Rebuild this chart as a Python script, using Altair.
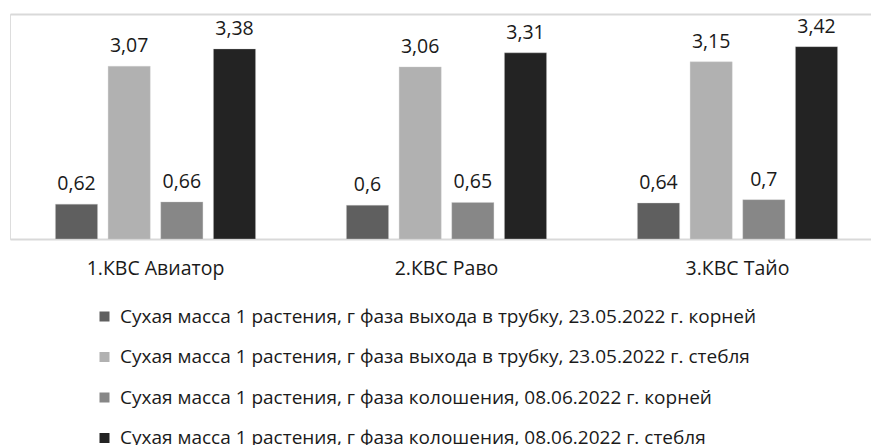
import altair as alt
import pandas as pd

# Varieties (groups) and measurement series
varieties = ["1.КВС Авиатор", "2.КВС Раво", "3.КВС Тайо"]
series = [
    "Сухая масса 1 растения, г фаза выхода в трубку, 23.05.2022 г. корней",
    "Сухая масса 1 растения, г фаза выхода в трубку, 23.05.2022 г. стебля",
    "Сухая масса 1 растения, г фаза колошения, 08.06.2022 г. корней",
    "Сухая масса 1 растения, г фаза колошения, 08.06.2022 г. стебля",
]
roots_tube = [0.62, 0.60, 0.64]
stems_tube = [3.07, 3.06, 3.15]
roots_ear = [0.66, 0.65, 0.70]
stems_ear = [3.38, 3.31, 3.42]
colors = ["#5f5f5f", "#b1b1b1", "#878787", "#232323"]

rows = []
for s, vals in zip(series, [roots_tube, stems_tube, roots_ear, stems_ear]):
    for v, val in zip(varieties, vals):
        rows.append({"variety": v, "series": s, "value": val})
df = pd.DataFrame(rows)

FONT = "Open Sans"

x = alt.X(
    "variety:N",
    sort=varieties,
    title=None,
    scale=alt.Scale(range=[0, 873], paddingInner=0, paddingOuter=0),
    axis=alt.Axis(
        labelAngle=0, domain=False, ticks=False, labelPadding=20,
        labelFontSize=19.5, labelColor="#1a1a1a", labelFont=FONT, grid=False,
    ),
)
xoff = alt.XOffset(
    "series:N", sort=series,
    scale=alt.Scale(paddingInner=0.2, paddingOuter=0.8625),
)
y = alt.Y(
    "value:Q",
    title=None,
    scale=alt.Scale(domain=[0, 4], nice=False),
    axis=alt.Axis(
        values=[0, 4], labels=False, ticks=False, domain=False,
        grid=True, gridColor="#d9d9d9", gridWidth=2,
    ),
)

bars = alt.Chart(df).mark_bar(stroke="#d0d0d0", strokeWidth=0.6, strokeOpacity=0.6).encode(
    x=x,
    xOffset=xoff,
    y=y,
    color=alt.Color(
        "series:N",
        sort=series,
        scale=alt.Scale(domain=series, range=colors),
        legend=alt.Legend(
            title=None, orient="none", legendX=85, legendY=293,
            direction="vertical", symbolType="square", symbolSize=100,
            symbolStrokeWidth=0, labelFontSize=19, labelFont=FONT,
            labelColor="#1a1a1a", labelLimit=900, rowPadding=20.5,
            labelOffset=6, padding=0,
        ),
    ),
)

labels = alt.Chart(df).transform_calculate(
    label="replace(format(datum.value, ''), '.', ',')"
).mark_text(
    baseline="alphabetic", dy=-14, fontSize=19.5, font=FONT, color="#1a1a1a"
).encode(
    x=x,
    xOffset=xoff,
    y=y,
    text="label:N",
)

chart = alt.layer(bars, labels).properties(
    width=861,
    height=225,
    autosize=alt.AutoSizeParams(type="none"),
    padding={"left": 10, "top": 14, "right": 0, "bottom": 206},
).configure_view(stroke=None).configure(background="white")

chart.save("out.html", embed_options={"renderer": "svg", "actions": False})
